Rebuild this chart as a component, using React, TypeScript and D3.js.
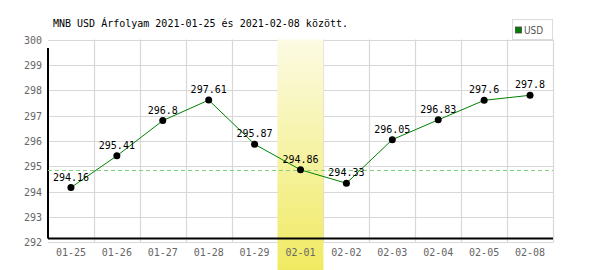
import React from "react";
import * as d3 from "d3";

const categories = ["01-25", "01-26", "01-27", "01-28", "01-29", "02-01", "02-02", "02-03", "02-04", "02-05", "02-08"];
const values = [294.16, 295.41, 296.8, 297.61, 295.87, 294.86, 294.33, 296.05, 296.83, 297.6, 297.8];
const yTicks = [292, 293, 294, 295, 296, 297, 298, 299, 300];
const highlightIndex = 5;
const title = "MNB USD Árfolyam 2021-01-25 és 2021-02-08 között.";
const seriesName = "USD";

export default function App() {
  const W = 600, H = 270;
  const left = 48, right = 553, top = 39.5, bottom = 242.3;
  const x = d3.scaleBand<string>().domain(categories).range([left, right]);
  const y = d3.scaleLinear().domain([292, 300]).range([bottom, top]);
  const cx = (c: string) => (x(c) as number) + x.bandwidth() / 2;
  const crisp = (v: number) => Math.round(v) + 0.5;
  const line = d3.line<number>().x((_, i) => cx(categories[i])).y((v) => y(v));
  const hc = categories[highlightIndex];
  const mono = "'DejaVu Sans Mono', monospace";
  return (
    <svg width={W} height={H} style={{ position: "absolute", left: 0, top: 0, background: "#fff" }}>
      <defs>
        <linearGradient id="hl" x1="0" y1="0" x2="0" y2="1">
          <stop offset="0" stopColor="#fcfbe4" />
          <stop offset="1" stopColor="#f0ea62" />
        </linearGradient>
      </defs>
      <text x={53} y={27} fontFamily={mono} fontSize={10} fill="#000">{title}</text>
      {yTicks.map((t) => (
        <line key={t} x1={left} x2={right} y1={crisp(y(t))} y2={crisp(y(t))} stroke="#d8d8d8" strokeWidth={1.2} />
      ))}
      {categories.slice(1).map((c) => (
        <line key={c} x1={crisp(x(c) as number)} x2={crisp(x(c) as number)} y1={top} y2={bottom} stroke="#d8d8d8" strokeWidth={1.2} />
      ))}
      <line x1={crisp(right)} x2={crisp(right)} y1={top} y2={bottom} stroke="#d8d8d8" strokeWidth={1.2} />
      <rect x={x(hc)} y={top} width={x.bandwidth()} height={H - top} fill="url(#hl)" />
      <line x1={left} x2={left} y1={48} y2={238.5} stroke="#000" strokeWidth={2} />
      <line x1={left} x2={right} y1={238.5} y2={238.5} stroke="#000" strokeWidth={2} />
      {yTicks.map((t) => (
        <text key={t} x={42} y={y(t) + 4} textAnchor="end" fontFamily={mono} fontSize={10} fill="#666">{t}</text>
      ))}
      {categories.map((c) => (
        <text key={c} x={cx(c)} y={256} textAnchor="middle" fontFamily={mono} fontSize={10} fill="#666">{c}</text>
      ))}
      <line x1={left} x2={right} y1={crisp(y(values[highlightIndex]))} y2={crisp(y(values[highlightIndex]))} stroke="#80d080" strokeWidth={1} strokeDasharray="4,3" />
      <path d={line(values) || ""} fill="none" stroke="#008000" strokeWidth={1} />
      {values.map((v, i) => (
        <g key={i}>
          <circle cx={cx(categories[i])} cy={y(v)} r={3.5} fill="#000" />
          <text x={cx(categories[i])} y={y(v) - 7} textAnchor="middle" fontFamily={mono} fontSize={10} fill="#000">{String(v)}</text>
        </g>
      ))}
      <rect x={512.5} y={19.5} width={40} height={20} fill="#fff" stroke="#dcdcdc" strokeWidth={1} />
      <rect x={515.5} y={27} width={6} height={6} fill="#008000" stroke="#444" strokeWidth={0.8} />
      <text x={524} y={34} fontFamily="'Liberation Sans Narrow', 'DejaVu Sans Condensed', sans-serif" fontSize={10} fill="#555">{seriesName}</text>
    </svg>
  );
}
